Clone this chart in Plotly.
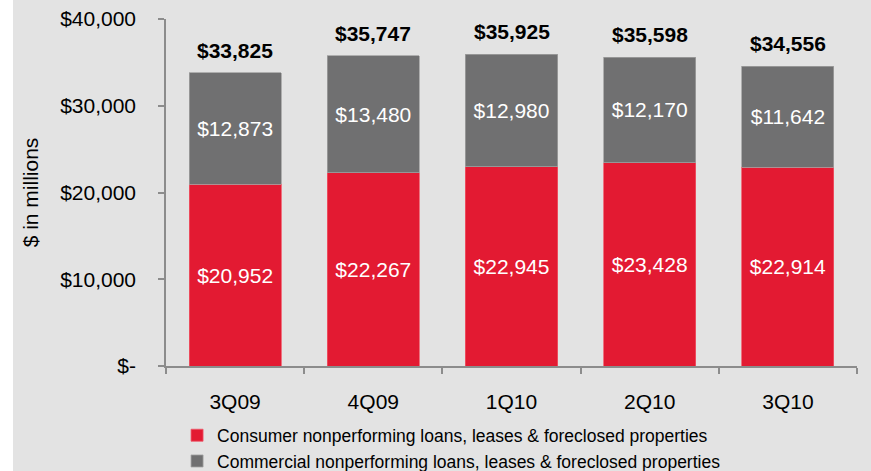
import plotly.graph_objects as go

categories = ["3Q09", "4Q09", "1Q10", "2Q10", "3Q10"]
consumer = [20952, 22267, 22945, 23428, 22914]
commercial = [12873, 13480, 12980, 12170, 11642]
totals = [33825, 35747, 35925, 35598, 34556]
tick_vals = [0, 10000, 20000, 30000, 40000]
tick_text = ["$-", "$10,000", "$20,000", "$30,000", "$40,000"]

RED = "#e31a32"
GRAY = "#707071"
BG = "#e3e3e3"
FONT = "Liberation Sans, Arial, sans-serif"

fig = go.Figure()
fig.add_trace(go.Bar(
    x=categories, y=consumer, name="Consumer nonperforming loans, leases & foreclosed properties",
    marker=dict(color=RED, line=dict(color="#ef5667", width=0.8)),
    text=[f"${v:,}" for v in consumer], textposition="inside", insidetextanchor="middle",
    textfont=dict(color="white", size=21, family=FONT), constraintext="none",
))
fig.add_trace(go.Bar(
    x=categories, y=commercial, name="Commercial nonperforming loans, leases & foreclosed properties",
    marker=dict(color=GRAY, line=dict(color="#a0a0a0", width=0.8)),
    text=[f"${v:,}" for v in commercial], textposition="inside", insidetextanchor="middle",
    textfont=dict(color="white", size=21, family=FONT), constraintext="none",
))

for c, t in zip(categories, totals):
    fig.add_annotation(x=c, y=t, text=f"<b>${t:,}</b>", showarrow=False,
                       yanchor="bottom", yshift=9,
                       font=dict(size=21, color="black", family=FONT))

# white strip at left edge of the page
fig.add_shape(type="rect", xref="paper", yref="paper", x0=-166/691, x1=-153/691,
              y0=-110/347, y1=1.1, fillcolor="white", line=dict(width=0), layer="below")

fig.update_layout(
    width=871, height=471,
    margin=dict(l=166, r=14, t=19, b=105, autoexpand=False),
    paper_bgcolor=BG, plot_bgcolor=BG,
    barmode="stack", bargap=0.333,
    font=dict(family=FONT, size=21, color="black"),
    showlegend=True,
    legend=dict(orientation="v", traceorder="normal", x=0.016, xanchor="left",
                y=-0.148, yanchor="top", bgcolor="rgba(0,0,0,0)",
                font=dict(size=17.5, family=FONT), itemwidth=30, tracegroupgap=0),
    xaxis=dict(showline=True, linecolor="#8c8c8c", linewidth=1.5, ticks="outside",
               tickson="boundaries", ticklen=6, tickcolor="#8c8c8c", tickwidth=1.5,
               showgrid=False, tickfont=dict(size=21), ticklabelstandoff=16,
               automargin=False, fixedrange=True),
    yaxis=dict(range=[0, 40000], tickvals=tick_vals, ticktext=tick_text,
               showline=True, linecolor="#8c8c8c", linewidth=1.5, ticks="outside",
               ticklen=6, tickcolor="#8c8c8c", tickwidth=1.5, showgrid=False, zeroline=False,
               tickfont=dict(size=21), ticklabelstandoff=18, automargin=False,
               title=dict(text="$ in millions", font=dict(size=21), standoff=16)),
)

fig.write_html("out.html", config={"displayModeBar": False},
               post_script="document.body.style.margin='0';document.body.style.overflow='hidden';")
